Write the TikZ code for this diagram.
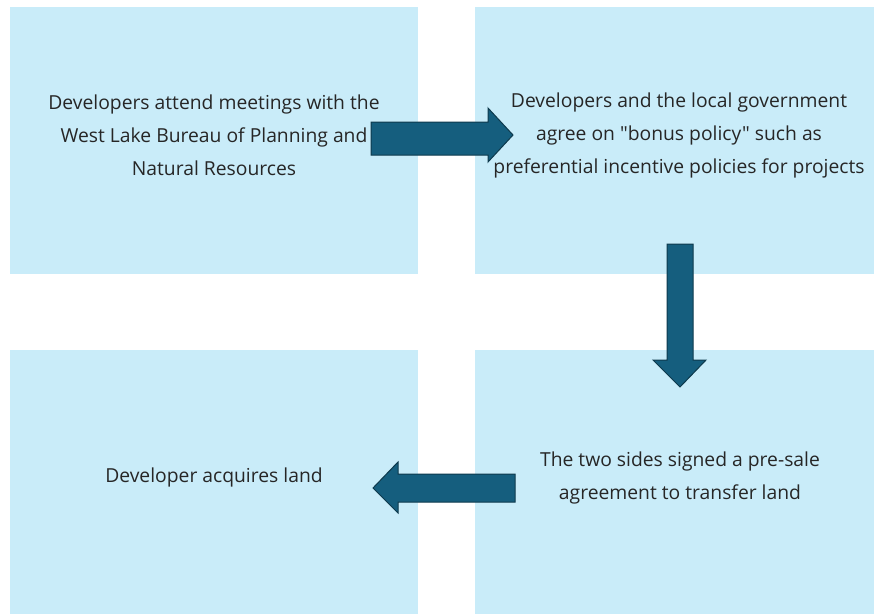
\documentclass[tikz,border=0pt]{standalone}
\usepackage{fontspec}
\setmainfont{Open Sans}[Ligatures=TeXOff]
\begin{document}
\begin{tikzpicture}[x=1pt,y=-1pt,
  panel/.style={fill=panelblue,draw=none},
  blockarrow/.style={fill=arrowblue,draw=arrowedge,line width=1pt,line join=miter},
  caption/.style={align=center,font=\fontsize{19.3}{33}\selectfont,text=black!85}]
\definecolor{panelblue}{HTML}{C9ECF9}
\definecolor{arrowblue}{HTML}{155E7E}
\definecolor{arrowedge}{HTML}{0E3A4D}
\useasboundingbox[fill=white] (0,0) rectangle (874,614);
% four panels
\fill[panel] (10,7) rectangle (418,274);
\fill[panel] (475,7) rectangle (874,274);
\fill[panel] (10,350) rectangle (418,614);
\fill[panel] (475,350) rectangle (874,614);
% panel texts
\node[caption] (t1) at (214,135) {Developers attend meetings with the\\West Lake Bureau of Planning and\\Natural Resources};
\node[caption] (t2) at (679,135) {Developers and the local government\\agree on "bonus policy" such as\\preferential incentive policies for projects};
\node[caption] (t3) at (680,478) {The two sides signed a pre-sale\\agreement to transfer land};
\node[caption] (t4) at (214,477) {Developer acquires land};
% block arrows between panels
\draw[blockarrow] (371,122) -- (488,122) -- (488,108) -- (513,135) -- (488,162) -- (488,155) -- (371,155) -- cycle;
\draw[blockarrow] (667,244) -- (693,244) -- (693,360) -- (706,360) -- (680,387) -- (653,360) -- (667,360) -- cycle;
\draw[blockarrow] (515,474) -- (398,474) -- (398,462) -- (373,488) -- (398,513) -- (398,502) -- (515,502) -- cycle;
\end{tikzpicture}
\end{document}
